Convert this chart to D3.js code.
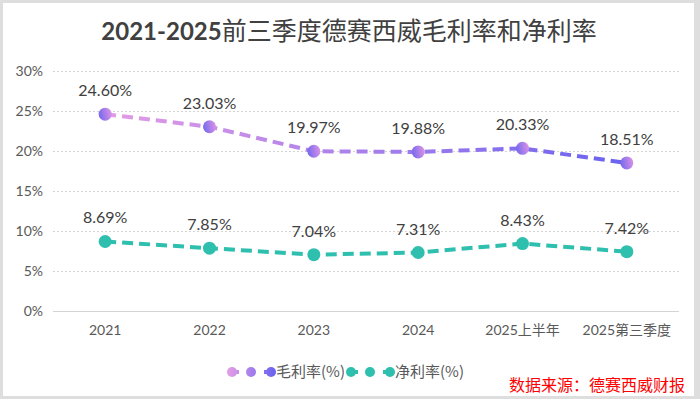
<!DOCTYPE html>
<html>
<head>
<meta charset="utf-8">
<script src="https://cdn.jsdelivr.net/npm/d3@7"></script>
<style>
  body { margin: 0; background: #fff; }
  svg { display: block; }
</style>
</head>
<body>
<div id="chart"></div>
<script>
// data
var categories = ["2021", "2022", "2023", "2024", "2025上半年", "2025第三季度"];
var grossMargin = [24.60, 23.03, 19.97, 19.88, 20.33, 18.51];
var netMargin = [8.69, 7.85, 7.04, 7.31, 8.43, 7.42];
var yTicks = [0, 5, 10, 15, 20, 25, 30];
var seriesNames = ["毛利率(%)", "净利率(%)"];

var W = 700, H = 399;
var latin = "Lato, 'Noto Sans CJK SC', sans-serif";
var cjk = "'Noto Sans CJK SC', Lato, sans-serif";

var svg = d3.select("#chart").append("svg")
    .attr("width", W)
    .attr("height", H);

// frame
svg.append("rect").attr("width", W).attr("height", H).attr("fill", "#dedede");
svg.append("rect").attr("x", 3).attr("y", 3).attr("width", 691).attr("height", 393).attr("fill", "#fff");

var defs = svg.append("defs");

var x = d3.scaleBand().domain(categories).range([53, 679]);
var y = d3.scaleLinear().domain([0, 30]).range([311, 71]);
var cx = function(i) { return x(categories[i]) + x.bandwidth() / 2; };

var lineGrad = defs.append("linearGradient")
    .attr("id", "grossLine")
    .attr("gradientUnits", "userSpaceOnUse")
    .attr("x1", cx(0)).attr("x2", cx(5)).attr("y1", 0).attr("y2", 0);
lineGrad.append("stop").attr("offset", "0%").attr("stop-color", "#e39ce6");
lineGrad.append("stop").attr("offset", "100%").attr("stop-color", "#6a62f0");

var dotGrad = defs.append("linearGradient")
    .attr("id", "grossDot")
    .attr("x1", "0%").attr("x2", "100%").attr("y1", "60%").attr("y2", "40%");
dotGrad.append("stop").attr("offset", "0%").attr("stop-color", "#7468ee");
dotGrad.append("stop").attr("offset", "100%").attr("stop-color", "#d992e6");

// legend gradient in the legend group's own coordinates
var legGrad = defs.append("linearGradient")
    .attr("id", "grossLeg")
    .attr("gradientUnits", "userSpaceOnUse")
    .attr("x1", 0).attr("x2", 47).attr("y1", 0).attr("y2", 0);
legGrad.append("stop").attr("offset", "0%").attr("stop-color", "#e39ce6");
legGrad.append("stop").attr("offset", "100%").attr("stop-color", "#6a62f0");

// title
var title = svg.append("text")
    .attr("x", 349).attr("y", 40)
    .attr("text-anchor", "middle")
    .attr("fill", "#404040");
title.append("tspan")
    .attr("font-family", latin).attr("font-weight", "bold").attr("font-size", 24)
    .text("2021-2025");
title.append("tspan")
    .attr("font-family", cjk).attr("font-size", 25)
    .text("前三季度德赛西威毛利率和净利率");

// grid
svg.append("g").selectAll("line")
    .data(yTicks)
    .join("line")
    .attr("x1", 53).attr("x2", 679)
    .attr("y1", function(d) { return y(d) + 0.5; })
    .attr("y2", function(d) { return y(d) + 0.5; })
    .attr("stroke", "#d4d4d4")
    .attr("stroke-width", 1)
    .attr("stroke-dasharray", function(d) { return d === 0 ? null : "2,2"; });

// y axis labels
var yAxis = svg.append("g")
    .attr("transform", "translate(43,0)")
    .call(d3.axisLeft(y).tickValues(yTicks).tickSize(0).tickPadding(0)
        .tickFormat(function(d) { return d + "%"; }));
yAxis.select(".domain").remove();
yAxis.selectAll("text")
    .attr("font-family", latin).attr("font-size", 14).attr("fill", "#595959");

// x axis labels
var xAxis = svg.append("g")
    .attr("transform", "translate(0,311)")
    .call(d3.axisBottom(x).tickSize(0).tickPadding(14));
xAxis.select(".domain").remove();
xAxis.selectAll("text")
    .attr("font-family", latin).attr("font-size", 14).attr("fill", "#595959");

var line = d3.line()
    .x(function(d, i) { return cx(i); })
    .y(function(d) { return y(d); });

function drawSeries(values, stroke, dotFill) {
    var g = svg.append("g");
    g.append("path")
        .attr("d", line(values))
        .attr("fill", "none")
        .attr("stroke", stroke)
        .attr("stroke-width", 4)
        .attr("stroke-dasharray", "11,6");
    g.selectAll("circle")
        .data(values)
        .join("circle")
        .attr("cx", function(d, i) { return cx(i); })
        .attr("cy", function(d) { return y(d); })
        .attr("r", 6.5)
        .attr("fill", dotFill);
    g.selectAll("text")
        .data(values)
        .join("text")
        .attr("x", function(d, i) { return cx(i); })
        .attr("y", function(d) { return y(d) - 18; })
        .attr("text-anchor", "middle")
        .attr("font-family", latin).attr("font-size", 16).attr("fill", "#404040")
        .text(function(d) { return d.toFixed(2) + "%"; });
}

drawSeries(grossMargin, "url(#grossLine)", "url(#grossDot)");
drawSeries(netMargin, "#2ebfae", "#2ebfae");

// legend
function legendItem(x0, color, label) {
    var g = svg.append("g").attr("transform", "translate(" + x0 + ",372)");
    g.append("line").attr("x1", 4).attr("x2", 11).attr("stroke", color).attr("stroke-width", 4);
    g.append("line").attr("x1", 36).attr("x2", 43).attr("stroke", color).attr("stroke-width", 4);
    [4, 23, 43].forEach(function(px) {
        g.append("circle").attr("cx", px).attr("r", 5).attr("fill", color);
    });
    g.append("text")
        .attr("x", 48).attr("y", 5)
        .attr("font-family", cjk).attr("font-size", 15).attr("fill", "#595959")
        .text(label);
}
legendItem(228, "url(#grossLeg)", seriesNames[0]);
legendItem(347, "#2ebfae", seriesNames[1]);

// source note
svg.append("text")
    .attr("x", 685).attr("y", 391)
    .attr("text-anchor", "end")
    .attr("font-family", cjk).attr("font-size", 16).attr("fill", "#ff0000")
    .text("数据来源：德赛西威财报");
</script>
</body>
</html>
